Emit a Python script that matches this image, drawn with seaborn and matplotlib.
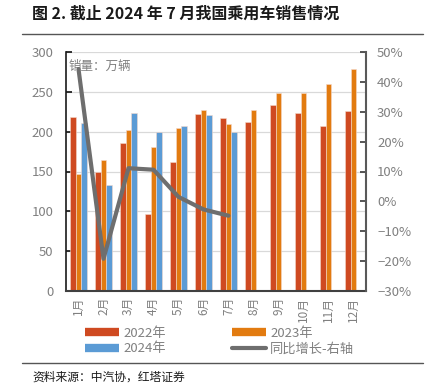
import numpy as np
import pandas as pd
import matplotlib
matplotlib.use("Agg")
import matplotlib.pyplot as plt
from matplotlib.lines import Line2D
from matplotlib.ticker import FuncFormatter
import seaborn as sns

months = ["1月", "2月", "3月", "4月", "5月", "6月", "7月", "8月", "9月", "10月", "11月", "12月"]
sales_2022 = [218, 149, 186, 97, 162, 222, 217, 212, 233, 223, 207, 226]
sales_2023 = [147, 165, 202, 181, 205, 227, 210, 227, 248, 248, 260, 279]
sales_2024 = [211, 133, 223, 200, 207, 221, 200]
yoy_2024 = [44.3, -19.2, 11.1, 10.6, 1.5, -2.7, -4.8]
years = ["2022年", "2023年", "2024年"]
colors = ["#CF4A21", "#E27B10", "#5B9BD5"]
line_color = "#6E6E6E"
line_label = "同比增长-右轴"

sns.set_theme(style="white")
plt.rcParams["font.family"] = ["Noto Sans CJK SC", "DejaVu Sans"]
plt.rcParams["axes.unicode_minus"] = True

rows = []
for i, m in enumerate(months):
    rows.append((m, years[0], sales_2022[i]))
    rows.append((m, years[1], sales_2023[i]))
    rows.append((m, years[2], sales_2024[i] if i < len(sales_2024) else np.nan))
df = pd.DataFrame(rows, columns=["month", "year", "value"])

W, H = 430, 391
fig = plt.figure(figsize=(W / 100, H / 100), dpi=100)
L, R, T, B = 66, 366, 52, 291
ax = fig.add_axes([L / W, 1 - B / H, (R - L) / W, (B - T) / H])

sns.barplot(data=df, x="month", y="value", hue="year", order=months, hue_order=years,
            palette=colors, width=0.65, ax=ax, legend=False, saturation=1,
            edgecolor="#F4D9CC", linewidth=0.4)
ax.set_ylim(0, 300)
ax.set_yticks(range(0, 301, 50))
ax.set_xlim(-0.5, 11.5)
ax.set_xlabel("")
ax.set_ylabel("")
ax.grid(axis="y", color="#D9D9D9", lw=0.9)
ax.set_axisbelow(True)
for s in ["top", "right"]:
    ax.spines[s].set_visible(False)
ax.spines["left"].set_color("#1a1a1a")
ax.spines["left"].set_linewidth(1.2)
ax.spines["bottom"].set_color("#404040")
ax.spines["bottom"].set_linewidth(1.5)
ax.tick_params(axis="y", direction="in", length=4, color="#1a1a1a", labelsize=9.5,
               labelcolor="#808080", pad=9)
ax.tick_params(axis="x", length=0, labelsize=8.5, labelcolor="#808080", pad=4)
for lab in ax.get_xticklabels():
    lab.set_rotation(90)

ax2 = ax.twinx()
sns.lineplot(x=list(range(len(yoy_2024))), y=yoy_2024, ax=ax2, color=line_color, lw=3,
             solid_capstyle="round")
ax2.set_ylim(-30, 50)
ax2.set_yticks(range(-30, 51, 10))
ax2.yaxis.set_major_formatter(FuncFormatter(lambda v, p: f"{int(v)}%".replace("-", "\u2212")))
ax2.set_xlim(-0.5, 11.5)
for s in ["top", "left", "bottom"]:
    ax2.spines[s].set_visible(False)
ax2.spines["right"].set_color("#595959")
ax2.spines["right"].set_linewidth(1.5)
ax2.tick_params(axis="y", direction="in", length=4, color="#404040", labelsize=9.5,
                labelcolor="#808080", pad=8)
ax2.grid(False)

ax.text(0.008, 0.94, "销量：万辆", transform=ax.transAxes, fontsize=9, color="#808080",
        ha="left", va="center")

# title and rules
fig.text(32 / W, 1 - 14 / H, "图 2. 截止 2024 年 7 月我国乘用车销售情况", fontsize=11.5,
         fontweight="bold", ha="left", va="center", color="#1a1a1a")
fig.add_artist(Line2D([22 / W, 423 / W], [1 - 34 / H, 1 - 34 / H], color="#555555", lw=1))
fig.add_artist(Line2D([22 / W, 423 / W], [1 - 363 / H, 1 - 363 / H], color="#555555", lw=1))
fig.text(32 / W, 1 - 377 / H, "资料来源：中汽协，红塔证券", fontsize=8.5, ha="left",
         va="center", color="#1a1a1a")

handles = [
    Line2D([], [], color=colors[0], lw=6, solid_capstyle="butt"),
    Line2D([], [], color=colors[2], lw=6, solid_capstyle="butt"),
    Line2D([], [], color=colors[1], lw=6, solid_capstyle="butt"),
    Line2D([], [], color=line_color, lw=3, solid_capstyle="round"),
]
labels = [years[0], years[2], years[1], line_label]
fig.legend(handles, labels, ncol=2, loc="center left", bbox_to_anchor=(85 / W, 1 - 341 / H),
           frameon=False, fontsize=9.5, handlelength=2.6, handletextpad=0.3,
           columnspacing=5.0, labelspacing=0.2, labelcolor="#808080", borderaxespad=0,
           borderpad=0)

fig.savefig("out.png", dpi=100)
